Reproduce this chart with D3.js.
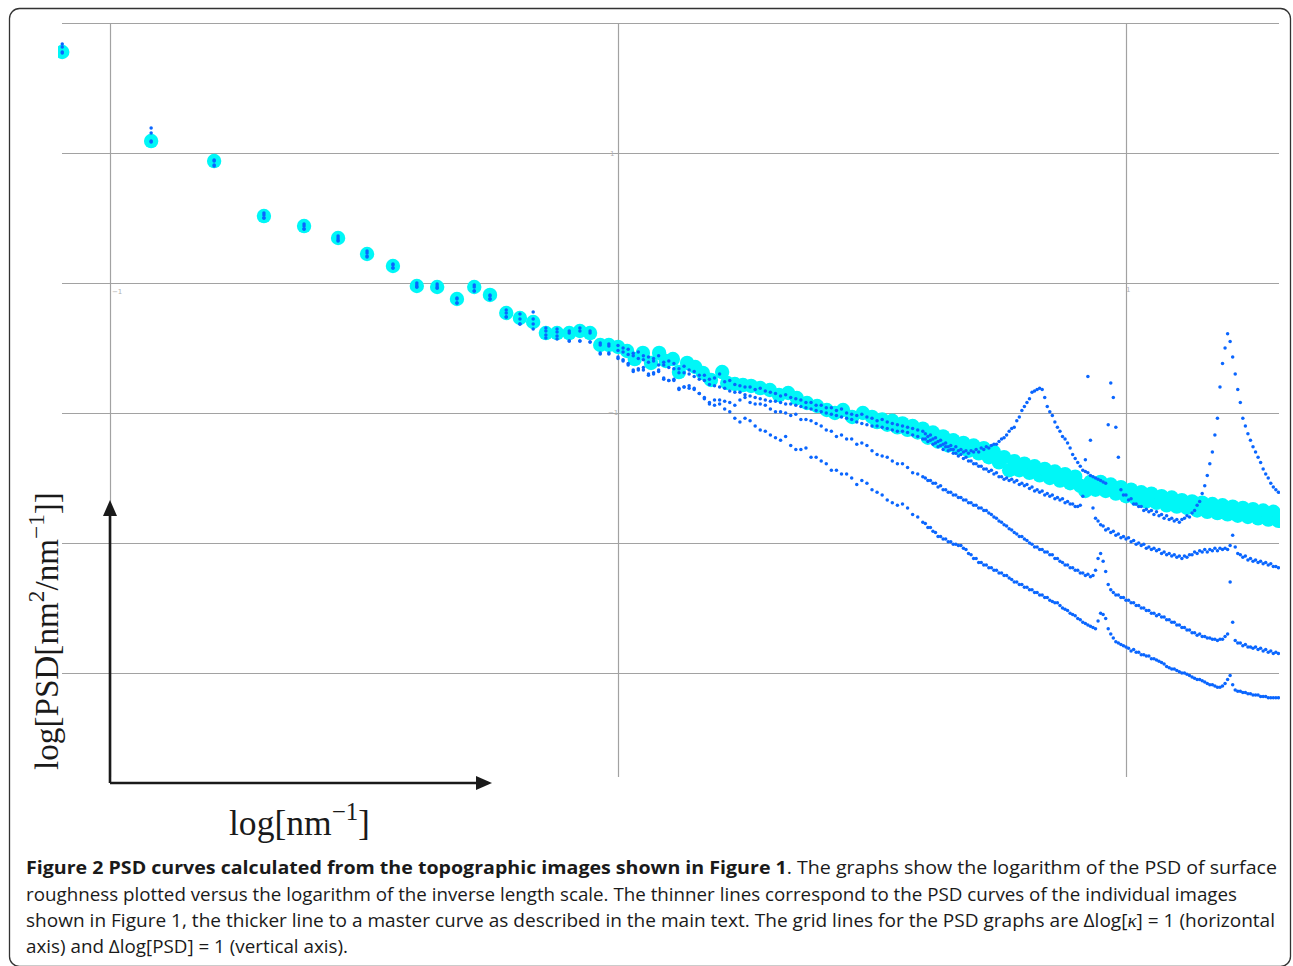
<!DOCTYPE html>
<html>
<head>
<meta charset="utf-8">
<script src="https://cdn.jsdelivr.net/npm/d3@7"></script>
<style>
  body { margin: 0; background: #fff; }
  svg { display: block; }
</style>
</head>
<body>
<svg id="chart" width="1293" height="966"></svg>
<script>
// log10 of the inverse length scale, shared by the four single-image curves
const kappa = [-3.094, -2.919, -2.795, -2.697, -2.618, -2.551, -2.494, -2.443, -2.396, -2.356,
  -2.317, -2.283, -2.252, -2.220, -2.193, -2.167, -2.142, -2.120, -2.096, -2.075, -2.055, -2.035, -2.018,
  -2.00, -1.99, -1.98, -1.97, -1.96, -1.95, -1.94, -1.93, -1.92, -1.91,
  -1.90, -1.89, -1.88, -1.87, -1.86, -1.85, -1.84, -1.83, -1.82, -1.81,
  -1.80, -1.79, -1.78, -1.77, -1.76, -1.75, -1.74, -1.73, -1.72, -1.71,
  -1.70, -1.69, -1.68, -1.67, -1.66, -1.65, -1.64, -1.63, -1.62, -1.61,
  -1.60, -1.59, -1.58, -1.57, -1.56, -1.55, -1.54, -1.53, -1.52, -1.51,
  -1.50, -1.49, -1.48, -1.47, -1.46, -1.45, -1.44, -1.43, -1.42, -1.41, -1.40,
  -1.395, -1.390, -1.385, -1.380, -1.375, -1.370, -1.365, -1.360, -1.355, -1.350,
  -1.345, -1.340, -1.335, -1.330, -1.325, -1.320, -1.315, -1.310, -1.305, -1.300,
  -1.295, -1.290, -1.285, -1.280, -1.275, -1.270, -1.265, -1.260, -1.255, -1.250,
  -1.245, -1.240, -1.235, -1.230, -1.225, -1.220, -1.215, -1.210, -1.205, -1.200,
  -1.195, -1.190, -1.185, -1.180, -1.175, -1.170, -1.165, -1.160, -1.155, -1.150,
  -1.145, -1.140, -1.135, -1.130, -1.125, -1.120, -1.115, -1.110, -1.105, -1.100,
  -1.095, -1.090, -1.085, -1.080, -1.075, -1.070, -1.065, -1.060, -1.055, -1.050,
  -1.045, -1.040, -1.035, -1.030, -1.025, -1.020, -1.015, -1.010, -1.005, -1.000,
  -0.995, -0.990, -0.985, -0.980, -0.975, -0.970, -0.965, -0.960, -0.955, -0.950,
  -0.945, -0.940, -0.935, -0.930, -0.925, -0.920, -0.915, -0.910, -0.905, -0.900,
  -0.895, -0.890, -0.885, -0.880, -0.875, -0.870, -0.865, -0.860, -0.855, -0.850,
  -0.845, -0.840, -0.835, -0.830, -0.825, -0.820, -0.815, -0.810, -0.805, -0.800,
  -0.795, -0.790, -0.785, -0.780, -0.775, -0.770, -0.765, -0.760, -0.755, -0.750,
  -0.745, -0.740, -0.735, -0.730, -0.725, -0.720, -0.715, -0.710, -0.705, -0.700];

// log10 PSD of the individual images (thin dotted curves)
const psdA = [4.838, 4.192, 3.946, 3.538, 3.454, 3.362, 3.246, 3.146, 3.000, 2.992,
  2.885, 2.985, 2.908, 2.792, 2.762, 2.777, 2.654, 2.646, 2.631, 2.654, 2.631, 2.538, 2.531,
  2.52, 2.50, 2.49, 2.46, 2.47, 2.44, 2.43, 2.42, 2.44, 2.39,
  2.40, 2.38, 2.34, 2.36, 2.33, 2.32, 2.29, 2.29, 2.26, 2.27,
  2.30, 2.24, 2.25, 2.22, 2.21, 2.20, 2.20, 2.18, 2.19, 2.17,
  2.16, 2.15, 2.13, 2.14, 2.12, 2.11, 2.10, 2.08, 2.08, 2.06,
  2.06, 2.04, 2.04, 2.02, 2.03, 2.00, 1.99, 1.98, 1.99, 1.97,
  1.96, 1.94, 1.95, 1.93, 1.92, 1.91, 1.90, 1.89, 1.88, 1.87, 1.86,
  1.84, 1.82, 1.83, 1.80, 1.81, 1.78, 1.79, 1.76, 1.77, 1.74,
  1.75, 1.72, 1.74, 1.71, 1.72, 1.70, 1.71, 1.69, 1.71, 1.70,
  1.72, 1.70, 1.73, 1.72, 1.74, 1.73, 1.75, 1.76, 1.76, 1.78,
  1.80, 1.81, 1.83, 1.86, 1.88, 1.89, 1.94, 1.97, 2.02, 2.05,
  2.08, 2.11, 2.16, 2.17, 2.18, 2.19, 2.18, 2.12, 2.05, 2.01,
  1.98, 1.93, 1.89, 1.86, 1.82, 1.80, 1.77, 1.73, 1.68, 1.65,
  1.62, 1.59, 1.56, 1.55, 1.54, 1.52, 1.51, 1.50, 1.49, 1.48,
  1.47, 1.46, 1.91, 2.23, 2.12, 1.89, 1.66, 1.41, 1.37, 1.37,
  1.33, 1.34, 1.30, 1.30, 1.28, 1.28, 1.25, 1.26, 1.24, 1.25,
  1.22, 1.24, 1.21, 1.22, 1.19, 1.21, 1.18, 1.19, 1.17, 1.18,
  1.16, 1.18, 1.19, 1.21, 1.20, 1.23, 1.25, 1.29, 1.32, 1.38,
  1.44, 1.52, 1.61, 1.70, 1.83, 1.96, 2.20, 2.38, 2.50, 2.61,
  2.55, 2.43, 2.30, 2.18, 2.08, 1.96, 1.90, 1.84, 1.79, 1.74,
  1.70, 1.66, 1.62, 1.57, 1.53, 1.50, 1.46, 1.43, 1.41, 1.39];

const psdB = [4.815, 4.154, 3.938, 3.523, 3.438, 3.346, 3.231, 3.138, 2.985, 2.977,
  2.877, 2.969, 2.900, 2.769, 2.723, 2.723, 2.631, 2.623, 2.615, 2.631, 2.615, 2.523, 2.515,
  2.48, 2.47, 2.45, 2.44, 2.42, 2.41, 2.39, 2.40, 2.37, 2.37,
  2.35, 2.34, 2.31, 2.31, 2.30, 2.28, 2.26, 2.25, 2.22, 2.21,
  2.20, 2.19, 2.17, 2.16, 2.16, 2.14, 2.13, 2.12, 2.11, 2.10,
  2.09, 2.09, 2.08, 2.07, 2.07, 2.06, 2.05, 2.04, 2.03, 2.02,
  2.01, 2.00, 1.99, 1.98, 1.97, 1.96, 1.95, 1.93, 1.92, 1.91,
  1.90, 1.90, 1.89, 1.88, 1.87, 1.86, 1.86, 1.85, 1.83, 1.82, 1.80,
  1.80, 1.78, 1.79, 1.76, 1.77, 1.74, 1.75, 1.72, 1.74, 1.71,
  1.72, 1.69, 1.69, 1.67, 1.68, 1.65, 1.66, 1.63, 1.63, 1.61,
  1.61, 1.59, 1.59, 1.57, 1.57, 1.55, 1.56, 1.53, 1.54, 1.51,
  1.51, 1.49, 1.50, 1.48, 1.49, 1.47, 1.48, 1.45, 1.46, 1.44,
  1.45, 1.42, 1.43, 1.40, 1.41, 1.39, 1.40, 1.37, 1.38, 1.36,
  1.37, 1.34, 1.35, 1.33, 1.34, 1.31, 1.32, 1.30, 1.30, 1.28,
  1.28, 1.29, 1.36, 1.64, 2.28, 1.79, 1.27, 1.19, 1.17, 1.14,
  1.13, 1.10, 1.11, 1.08, 1.09, 1.06, 1.07, 1.04, 1.05, 1.03,
  1.04, 1.01, 1.02, 0.99, 1.00, 0.98, 0.99, 0.96, 0.97, 0.95,
  0.96, 0.94, 0.95, 0.92, 0.93, 0.91, 0.92, 0.90, 0.91, 0.89,
  0.90, 0.88, 0.90, 0.89, 0.91, 0.91, 0.93, 0.92, 0.94, 0.93,
  0.95, 0.93, 0.95, 0.94, 0.96, 0.94, 0.96, 0.95, 0.96, 0.95,
  0.98, 1.06, 0.97, 0.92, 0.91, 0.89, 0.90, 0.87, 0.88, 0.86,
  0.87, 0.85, 0.86, 0.84, 0.85, 0.83, 0.84, 0.82, 0.82, 0.81];

const psdC = [4.777, 4.092, 3.908, 3.500, 3.415, 3.331, 3.208, 3.115, 2.969, 2.962,
  2.846, 2.938, 2.877, 2.738, 2.685, 2.685, 2.600, 2.592, 2.554, 2.554, 2.546, 2.462, 2.462,
  2.43, 2.41, 2.37, 2.33, 2.34, 2.35, 2.30, 2.31, 2.33, 2.27,
  2.25, 2.26, 2.18, 2.20, 2.21, 2.19, 2.15, 2.12, 2.07, 2.10,
  2.10, 2.09, 2.08, 2.06, 2.10, 2.12, 2.08, 2.07, 2.07, 2.06,
  2.03, 2.01, 2.01, 2.00, 1.98, 1.99, 1.95, 1.95, 1.94, 1.92,
  1.90, 1.87, 1.86, 1.82, 1.83, 1.80, 1.80, 1.76, 1.77, 1.75,
  1.71, 1.68, 1.67, 1.66, 1.63, 1.61, 1.61, 1.58, 1.54, 1.53, 1.51,
  1.50, 1.48, 1.48, 1.46, 1.46, 1.43, 1.44, 1.41, 1.41, 1.39,
  1.39, 1.37, 1.37, 1.35, 1.35, 1.33, 1.33, 1.31, 1.31, 1.29,
  1.29, 1.27, 1.27, 1.25, 1.25, 1.23, 1.22, 1.20, 1.19, 1.17,
  1.16, 1.14, 1.13, 1.11, 1.10, 1.08, 1.07, 1.05, 1.05, 1.03,
  1.02, 1.00, 0.99, 0.97, 0.97, 0.95, 0.95, 0.93, 0.93, 0.91,
  0.91, 0.88, 0.88, 0.86, 0.85, 0.83, 0.83, 0.81, 0.81, 0.79,
  0.79, 0.77, 0.77, 0.75, 0.76, 0.74, 0.75, 0.79, 0.88, 0.92,
  0.86, 0.78, 0.68, 0.64, 0.62, 0.60, 0.60, 0.58, 0.58, 0.56,
  0.56, 0.54, 0.54, 0.52, 0.52, 0.50, 0.50, 0.48, 0.48, 0.46,
  0.46, 0.44, 0.45, 0.43, 0.43, 0.41, 0.41, 0.39, 0.39, 0.37,
  0.37, 0.35, 0.35, 0.33, 0.33, 0.31, 0.31, 0.29, 0.30, 0.28,
  0.28, 0.27, 0.27, 0.26, 0.26, 0.25, 0.26, 0.26, 0.28, 0.30,
  0.70, 0.39, 0.25, 0.23, 0.23, 0.21, 0.22, 0.20, 0.20, 0.19,
  0.20, 0.18, 0.19, 0.17, 0.18, 0.16, 0.17, 0.15, 0.16, 0.15];

const psdD = [4.769, 4.085, 3.900, 3.500, 3.415, 3.323, 3.200, 3.115, 2.969, 2.962,
  2.846, 2.938, 2.877, 2.738, 2.685, 2.646, 2.577, 2.569, 2.554, 2.554, 2.546, 2.454, 2.454,
  2.42, 2.40, 2.38, 2.32, 2.33, 2.33, 2.29, 2.30, 2.32, 2.26,
  2.25, 2.25, 2.19, 2.20, 2.19, 2.18, 2.15, 2.11, 2.08, 2.06,
  2.07, 2.03, 2.01, 1.96, 1.93, 1.96, 1.94, 1.90, 1.87, 1.86,
  1.83, 1.81, 1.79, 1.82, 1.75, 1.72, 1.72, 1.73, 1.66, 1.66,
  1.63, 1.61, 1.56, 1.56, 1.53, 1.53, 1.50, 1.45, 1.48, 1.46,
  1.41, 1.39, 1.37, 1.33, 1.31, 1.29, 1.30, 1.27, 1.22, 1.20, 1.16,
  1.15, 1.12, 1.12, 1.09, 1.08, 1.05, 1.05, 1.03, 1.03, 1.01,
  1.01, 0.99, 0.99, 0.98, 0.98, 0.96, 0.95, 0.92, 0.91, 0.88,
  0.88, 0.85, 0.85, 0.83, 0.83, 0.81, 0.81, 0.79, 0.79, 0.77,
  0.77, 0.75, 0.75, 0.73, 0.72, 0.70, 0.70, 0.68, 0.68, 0.66,
  0.66, 0.64, 0.64, 0.62, 0.62, 0.60, 0.60, 0.58, 0.58, 0.56,
  0.55, 0.54, 0.54, 0.52, 0.50, 0.49, 0.48, 0.46, 0.45, 0.44,
  0.42, 0.41, 0.39, 0.38, 0.37, 0.36, 0.35, 0.34, 0.40, 0.46,
  0.45, 0.42, 0.34, 0.30, 0.27, 0.24, 0.23, 0.22, 0.21, 0.20,
  0.19, 0.17, 0.18, 0.16, 0.16, 0.14, 0.14, 0.13, 0.13, 0.11,
  0.11, 0.10, 0.09, 0.08, 0.07, 0.05, 0.04, 0.03, 0.03, 0.02,
  0.01, 0.00, 0.00, -0.01, -0.02, -0.03, -0.04, -0.05, -0.05, -0.06,
  -0.07, -0.08, -0.09, -0.09, -0.10, -0.11, -0.11, -0.10, -0.08, -0.05,
  -0.02, -0.09, -0.13, -0.14, -0.14, -0.15, -0.15, -0.16, -0.16, -0.17,
  -0.17, -0.17, -0.18, -0.18, -0.18, -0.19, -0.19, -0.19, -0.19, -0.19];

// master curve (thick cyan markers)
const masterKappa = [-3.094, -2.919, -2.795, -2.697, -2.618, -2.551, -2.494, -2.443, -2.396, -2.356,
  -2.317, -2.283, -2.252, -2.220, -2.193, -2.167, -2.142, -2.120, -2.096, -2.075,
  -2.055, -2.035, -2.018, -2.000, -1.982, -1.967, -1.951, -1.935, -1.919, -1.906,
  -1.892, -1.880, -1.864, -1.848, -1.833, -1.817, -1.795, -1.785, -1.770, -1.754,
  -1.738, -1.720, -1.701, -1.683, -1.665, -1.648, -1.628, -1.608, -1.589, -1.573,
  -1.557, -1.539, -1.518,
  -1.50, -1.49, -1.48, -1.47, -1.46, -1.45, -1.44, -1.43, -1.42, -1.41,
  -1.40, -1.39, -1.38, -1.37, -1.36, -1.35, -1.34, -1.33, -1.32, -1.31,
  -1.30, -1.29, -1.28, -1.27, -1.26, -1.25, -1.24, -1.23, -1.22, -1.21,
  -1.20, -1.19, -1.18, -1.17, -1.16, -1.15, -1.14, -1.13, -1.12, -1.11,
  -1.10, -1.09, -1.08, -1.07, -1.06, -1.05, -1.04, -1.03, -1.02, -1.01,
  -1.00, -0.99, -0.98, -0.97, -0.96, -0.95, -0.94, -0.93, -0.92, -0.91,
  -0.90, -0.89, -0.88, -0.87, -0.86, -0.85, -0.84, -0.83, -0.82, -0.81,
  -0.80, -0.79, -0.78, -0.77, -0.76, -0.75, -0.74, -0.73, -0.72, -0.71, -0.70];
const masterPsd = [4.777, 4.092, 3.938, 3.515, 3.438, 3.346, 3.223, 3.131, 2.977, 2.969,
  2.877, 2.969, 2.908, 2.769, 2.731, 2.700, 2.615, 2.615, 2.615, 2.631,
  2.615, 2.523, 2.523, 2.508, 2.477, 2.415, 2.462, 2.385, 2.462, 2.400,
  2.415, 2.315, 2.385, 2.354, 2.308, 2.254, 2.315, 2.231, 2.223, 2.215,
  2.208, 2.192, 2.177, 2.138, 2.154, 2.115, 2.077, 2.054, 2.023, 2.000,
  2.023, 1.969, 2.000,
  1.97, 1.93, 1.95, 1.91, 1.94, 1.89, 1.92, 1.87, 1.90, 1.85,
  1.88, 1.81, 1.85, 1.78, 1.82, 1.75, 1.79, 1.73, 1.77, 1.71,
  1.75, 1.69, 1.73, 1.66, 1.70, 1.62, 1.66, 1.56, 1.63, 1.56,
  1.61, 1.54, 1.59, 1.52, 1.57, 1.50, 1.55, 1.48, 1.53, 1.46,
  1.51, 1.44, 1.40, 1.47, 1.41, 1.47, 1.40, 1.45, 1.38, 1.43,
  1.36, 1.41, 1.34, 1.39, 1.32, 1.38, 1.31, 1.36, 1.29, 1.35,
  1.28, 1.33, 1.27, 1.32, 1.25, 1.31, 1.24, 1.30, 1.23, 1.29,
  1.22, 1.28, 1.21, 1.27, 1.20, 1.26, 1.19, 1.25, 1.18, 1.24, 1.17];

const gridX = [-3, -2, -1];
const gridY = [0, 1, 2, 3, 4, 5];

const captionLines = [
  [{ t: "Figure 2 PSD curves calculated from the topographic images shown in Figure 1", b: true },
   { t: ". The graphs show the logarithm of the PSD of surface" }],
  [{ t: "roughness plotted versus the logarithm of the inverse length scale. The thinner lines correspond to the PSD curves of the individual images" }],
  [{ t: "shown in Figure 1, the thicker line to a master curve as described in the main text. The grid lines for the PSD graphs are \u0394log[" },
   { t: "\u03ba", i: true }, { t: "] = 1 (horizontal" }],
  [{ t: "axis) and \u0394log[PSD] = 1 (vertical axis)." }]
];

var main;
(function (main) {
    const plotLeft = 62, plotRight = 1279, plotTop = 23, plotBottom = 777;

    function ini() {
        let svg = d3.select("#chart");
        svg.append("rect").attr("width", 1293).attr("height", 966).attr("fill", "#fff");

        let x = d3.scaleLinear().domain([-3, -1]).range([110, 1126]);
        let y = d3.scaleLinear().domain([0, 5]).range([673, 23]);

        svg.append("clipPath").attr("id", "plotClip")
            .append("rect").attr("x", 58).attr("y", 12).attr("width", 1280 - 58).attr("height", 780);

        // grid
        let gx = svg.append("g").classed("gridX", true)
            .attr("transform", `translate(0,${plotTop})`)
            .call(d3.axisTop(x).tickValues(gridX).tickSize(-(plotBottom - plotTop)).tickFormat(""));
        let gy = svg.append("g").classed("gridY", true)
            .attr("transform", `translate(${plotLeft},0)`)
            .call(d3.axisLeft(y).tickValues(gridY).tickSize(-(plotRight - plotLeft)).tickFormat(""));
        [gx, gy].forEach(g => {
            g.select(".domain").remove();
            g.selectAll("line").attr("stroke", "#a2a2a2").attr("stroke-width", 1.2);
        });

        // faint leftover tick labels
        let faint = [[-3, 3, 2, 11, "\u22121"], [-2, 4, -8, 3, "1"], [-2, 2, -10, 2, "\u22121"], [-1, 3, 0, 9, "1"]];
        svg.append("g").selectAll("text").data(faint).enter().append("text")
            .attr("x", d => x(d[0]) + d[2]).attr("y", d => y(d[1]) + d[3])
            .attr("font-family", "DejaVu Sans").attr("font-size", 7).attr("fill", "#b0b0b0")
            .text(d => d[4]);

        let marks = svg.append("g").attr("clip-path", "url(#plotClip)");

        // master curve
        marks.append("g").selectAll("circle")
            .data(masterKappa.map((k, i) => [k, masterPsd[i]]))
            .enter().append("circle")
            .attr("cx", d => x(d[0])).attr("cy", d => y(d[1]))
            .attr("r", 7.2).attr("fill", "#00f7f7");

        // individual curves
        [psdA, psdB, psdC, psdD].forEach(psd => {
            marks.append("g").selectAll("circle")
                .data(kappa.map((k, i) => [k, psd[i]]))
                .enter().append("circle")
                .attr("cx", d => x(d[0])).attr("cy", d => y(d[1]))
                .attr("r", 1.75).attr("fill", "#0a66ff");
        });

        // axis arrows
        let ax = svg.append("g");
        ax.append("path").attr("d", "M110,783V514M110,783H478")
            .attr("fill", "none").attr("stroke", "#1a1a1a").attr("stroke-width", 2.6);
        ax.append("path").attr("d", "M110,500L103,516L117,516Z").attr("fill", "#1a1a1a");
        ax.append("path").attr("d", "M492,783L476,776L476,790Z").attr("fill", "#1a1a1a");

        // axis labels
        let ylab = svg.append("text")
            .attr("transform", "translate(58,770) rotate(-90)")
            .attr("font-family", "Liberation Serif, DejaVu Serif, serif").attr("font-size", 32)
            .attr("fill", "#1a1a1a");
        ylab.append("tspan").text("log[PSD[nm");
        ylab.append("tspan").attr("font-size", "70%").attr("dy", "-0.6em").text("2");
        ylab.append("tspan").attr("dy", "0.42em").text("/nm");
        ylab.append("tspan").attr("font-size", "70%").attr("dy", "-0.6em").text("\u22121");
        ylab.append("tspan").attr("dy", "0.42em").text("]]");
        fitWidth(ylab, 278);

        let xlab = svg.append("text")
            .attr("x", 229).attr("y", 835)
            .attr("font-family", "Liberation Serif, DejaVu Serif, serif").attr("font-size", 34)
            .attr("fill", "#1a1a1a");
        xlab.append("tspan").text("log[nm");
        xlab.append("tspan").attr("font-size", "70%").attr("dy", "-0.6em").text("\u22121");
        xlab.append("tspan").attr("dy", "0.42em").text("]");
        fitWidth(xlab, 141);

        // caption
        let lineEnds = [1277, 1237, 1275, 348];
        let baselines = [874, 901, 927, 953];
        captionLines.forEach((segs, li) => {
            let t = svg.append("text")
                .attr("x", 26).attr("y", baselines[li])
                .attr("font-family", "Open Sans, DejaVu Sans, sans-serif")
                .attr("font-size", 18).attr("fill", "#1a1a1a");
            segs.forEach(s => {
                let ts = t.append("tspan").text(s.t);
                if (s.b) ts.attr("font-weight", "bold");
                if (s.i) ts.attr("font-style", "italic").attr("font-family", "Liberation Serif, serif");
            });
            t.attr("textLength", lineEnds[li] - 26).attr("lengthAdjust", "spacingAndGlyphs");
        });

        // frame
        svg.append("rect").attr("x", 9.5).attr("y", 8.5).attr("width", 1281).attr("height", 958)
            .attr("rx", 10).attr("fill", "none").attr("stroke", "#333").attr("stroke-width", 1.3);
    }
    main.ini = ini;

    function fitWidth(sel, target) {
        let fs = parseFloat(sel.attr("font-size"));
        let len = sel.node().getComputedTextLength();
        sel.attr("font-size", fs * target / len);
    }
})(main || (main = {}));
main.ini();
</script>
</body>
</html>
